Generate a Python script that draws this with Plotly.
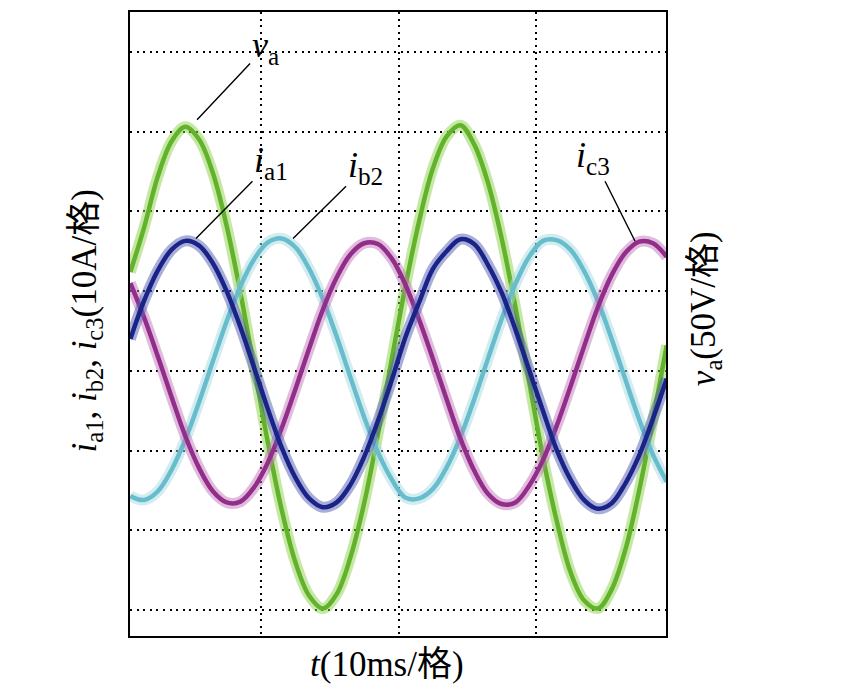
import plotly.graph_objects as go

# time axis (ms), 10 ms per division
t_ms = [0.5, 1.5, 2.5, 3.5, 4.5, 5.5, 6.5, 7.5, 8.5, 9.5,
        10.5, 11.5, 12.5, 13.5, 14.5, 15.5, 16.5, 17.5, 18.5, 19.5,
        20.5, 21.5, 22.5, 23.5, 24.5, 25.5, 26.5, 27.5, 28.5, 29.5,
        30.5, 31.5, 32.5, 33.5, 34.5, 35.5, 36.5, 37.5, 38.5, 39.5]

# voltage v_a (V), 50 V per division
v_a = [62, 90, 122, 144, 153, 145, 124, 91, 49, 2,
       -45, -87, -120, -141, -149, -140, -117, -83, -40, 7,
       53, 94, 127, 147, 154, 142, 118, 83, 40, -7,
       -54, -94, -126, -144, -149, -137, -112, -75, -31, 16]

# currents (A), 10 A per division
i_a1 = [4.0, 8.8, 12.6, 15.2, 16.3, 15.7, 13.5, 10.0, 5.5, 0.4,
        -4.8, -9.6, -13.4, -16.0, -17.1, -16.5, -14.3, -10.8, -6.3, -1.2,
        4.2, 8.6, 12.8, 15.0, 16.5, 15.9, 13.3, 9.8, 5.2, 0.1,
        -5.0, -9.9, -13.6, -16.2, -17.3, -16.6, -14.1, -10.6, -6.0, -1.0]

i_b2 = [-15.7, -16.2, -15.1, -12.4, -8.6, -3.9, 1.2, 6.2, 10.6, 14.0,
        16.1, 16.6, 15.5, 12.8, 9.0, 4.3, -0.8, -5.8, -10.2, -13.6,
        -15.9, -16.0, -14.8, -12.1, -8.3, -3.6, 1.5, 6.5, 10.9, 14.3,
        16.3, 16.4, 15.2, 12.5, 8.7, 4.0, -1.1, -6.1, -10.5, -13.9]

i_c3 = [11.0, 6.7, 1.8, -3.3, -8.2, -12.2, -15.1, -16.5, -16.4, -14.6,
        -11.5, -7.2, -2.3, 2.8, 7.7, 11.7, 14.6, 16.0, 15.9, 14.1,
        10.8, 6.4, 1.5, -3.6, -8.5, -12.5, -15.4, -16.7, -16.5, -14.4,
        -11.2, -6.9, -2.0, 3.1, 8.0, 12.0, 14.8, 16.2, 16.0, 14.3]

FONT = "Liberation Serif, Times New Roman, Noto Sans CJK SC, serif"

fig = go.Figure()

def add_series(y, halo, core, axis):
    fig.add_trace(go.Scatter(x=t_ms, y=y, mode="lines", yaxis=axis,
                             line=dict(color=halo, width=11, shape="spline"),
                             opacity=0.5, hoverinfo="skip", showlegend=False))
    fig.add_trace(go.Scatter(x=t_ms, y=y, mode="lines", yaxis=axis,
                             line=dict(color=core, width=4.5, shape="spline"),
                             hoverinfo="skip", showlegend=False))

add_series(v_a, "#8fd24e", "#63b22c", "y")
add_series(i_b2, "#a6dbe3", "#68bdcc", "y2")
add_series(i_c3, "#c47abd", "#922e8a", "y2")
add_series(i_a1, "#5560b5", "#1a2388", "y2")

grid = dict(showgrid=True, gridcolor="black", gridwidth=1.6, griddash="2px,4.6px",
            showticklabels=False, ticks="", zeroline=False)

fig.update_layout(
    width=860, height=697,
    margin=dict(l=122, r=202, t=2, b=69),
    paper_bgcolor="white", plot_bgcolor="white",
    font=dict(family=FONT, color="black"),
    xaxis=dict(range=[0.473, 39.45], dtick=10, tick0=0,
               showline=True, mirror=True, linecolor="black", linewidth=2, **grid),
    yaxis=dict(range=[-166.25, 225], dtick=50, tick0=0,
               showline=True, mirror=True, linecolor="black", linewidth=2, **grid),
    yaxis2=dict(range=[-33.25, 45], overlaying="y", side="left",
                showgrid=False, showticklabels=False, ticks="", zeroline=False),
)

ann_font = dict(family=FONT, size=36, color="black")
labels = [
    ("<i>v</i><sub>a</sub>", 5.35, 157.5, "y", 68, -72),
    ("<i>i</i><sub>a1</sub>", 5.27, 16.6, "y2", 75, -76),
    ("<i>i</i><sub>b2</sub>", 12.33, 16.6, "y2", 72, -71),
    ("<i>i</i><sub>c3</sub>", 37.2, 16.25, "y2", -42, -84),
]
for txt, x, y, yref, ax, ay in labels:
    fig.add_annotation(text=txt, x=x, y=y, xref="x", yref=yref, ax=ax, ay=ay,
                       showarrow=True, arrowhead=0, arrowwidth=1.4, arrowcolor="black",
                       standoff=0, font=ann_font)

title_font = dict(family=FONT, size=35, color="black")
fig.add_annotation(text="<i>i</i><sub>a1</sub>, <i>i</i><sub>b2</sub>, <i>i</i><sub>c3</sub>(10A/格)",
                   xref="paper", yref="paper", x=-0.081, y=0.505, textangle=-90,
                   showarrow=False, font=title_font, xanchor="center", yanchor="middle")
fig.add_annotation(text="<i>v</i><sub>a</sub>(50V/格)",
                   xref="paper", yref="paper", x=1.073, y=0.524, textangle=-90,
                   showarrow=False, font=title_font, xanchor="center", yanchor="middle")
fig.add_annotation(text="<i>t</i>(10ms/格)",
                   xref="paper", yref="paper", x=0.479, y=-0.045,
                   showarrow=False, font=title_font, xanchor="center", yanchor="middle")

fig.write_html("out.html")
